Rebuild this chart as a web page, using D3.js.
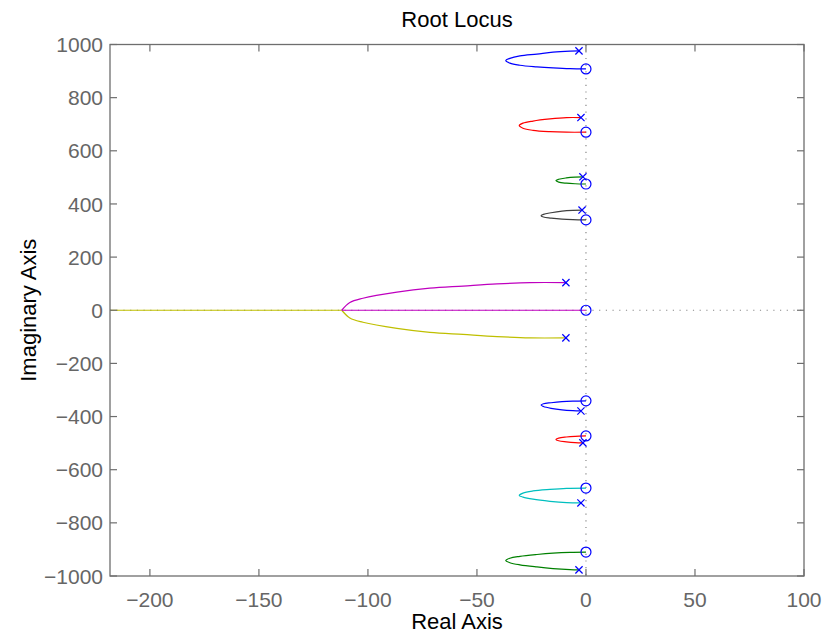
<!DOCTYPE html>
<meta charset="utf-8">
<style>
body { margin: 0; background: #fff; }
text { font-family: "Liberation Sans", Arial, sans-serif; }
.tick-label { fill: #666; font-size: 21px; }
.axis-title { fill: #000; font-size: 22px; }
</style>
<body>
<svg class="chart js-chart"></svg>

<script src="https://d3js.org/d3.v7.min.js"></script>
<script type="text/javascript">
"use strict";

// tick values
var xTicks = [-200, -150, -100, -50, 0, 50, 100];
var yTicks = [-1000, -800, -600, -400, -200, 0, 200, 400, 600, 800, 1000];

// open-loop poles and zeros [re, im]
var poles = [[-3.2, 976], [-2.3, 725], [-1.4, 502], [-1.8, 377], [-9.2, 104],
  [-9.2, -104], [-2.3, -379], [-1.4, -499], [-2.3, -725], [-3.2, -977]];
var zeros = [[0, 908], [0, 670], [0, 475], [0, 340], [0, 0],
  [0, -341], [0, -473], [0, -669], [0, -910]];

// locus branches, pole -> zero
var branchBlueTop = [[-3.2, 976], [-7.3, 975], [-15.1, 971], [-22.5, 964], [-30.3, 957], [-34.9, 948],
  [-36.8, 940], [-34.9, 930], [-30.3, 922], [-22.5, 916], [-15.1, 912], [-7.3, 909], [0, 908]];
var branchRedTop = [[-2.3, 725], [-8.9, 725], [-16.5, 720], [-24.3, 712], [-28.9, 704], [-30.6, 695],
  [-28.9, 685], [-24.3, 677], [-16.5, 672], [-8.9, 670], [0, 670]];
var branchGreenTop = [[-1.4, 502], [-5, 501], [-9, 498], [-12.5, 493], [-13.8, 488], [-12.5, 482],
  [-9, 478], [-5, 476], [0, 475]];
var branchBlackTop = [[-1.8, 377], [-6, 376], [-11, 373], [-16, 367], [-19.5, 361], [-20.6, 356],
  [-19.5, 351], [-16, 347], [-11, 343], [-6, 341], [0, 340]];
var branchBlueBot = [[-2.3, -379], [-6, -378], [-11, -375], [-16, -369], [-19.5, -362], [-20.6, -357],
  [-19.5, -352], [-16, -348], [-11, -344], [-6, -342], [0, -341]];
var branchRedBot = [[-1.4, -499], [-5, -498], [-9, -495], [-12.5, -491], [-13.8, -486], [-12.5, -481],
  [-9, -477], [-5, -474.5], [0, -473]];
var branchCyanBot = [[-2.3, -725], [-8.9, -724], [-16.5, -719], [-24.3, -711], [-28.9, -703], [-30.6, -697],
  [-28.9, -688], [-24.3, -680], [-16.5, -674], [-8.9, -670], [0, -669]];
var branchGreenBot = [[-3.2, -977], [-7.3, -976], [-15.1, -972], [-22.5, -966], [-30.3, -958], [-34.9, -950],
  [-36.8, -942], [-34.9, -933], [-30.3, -926], [-22.5, -919], [-15.1, -914], [-7.3, -911], [0, -910]];
var branchMagentaCurve = [[-9.2, 104], [-25.7, 104], [-40.8, 99], [-56.4, 91], [-71.6, 83], [-86.7, 68],
  [-102.3, 45], [-108.3, 29], [-112, 0]];
var branchMagentaReal = [[-112, 0], [0, 0]];
var branchYellowCurve = [[-9.2, -104], [-25.7, -104], [-40.8, -99], [-56.4, -91], [-71.6, -83], [-86.7, -68],
  [-102.3, -45], [-108.3, -29], [-112, 0]];
var branchYellowReal = [[-112, 0], [-218.3, 0]];

var xDomain = [-218.3, 100];
var yDomain = [-1000, 1000];

var width = 825, height = 635;
var margin = {top: 44.5, right: 21, bottom: 59, left: 110};

var svg = d3.select('.js-chart')
  .attr('width', width)
  .attr('height', height);

var x = d3.scaleLinear().domain(xDomain).range([margin.left, width - margin.right]);
var y = d3.scaleLinear().domain(yDomain).range([height - margin.bottom, margin.top]);

var boxColor = '#6e6e6e';
var tickLen = 7;

// dotted lines through the origin
svg.append('line')
  .attr('x1', x(0)).attr('x2', x(0))
  .attr('y1', y(1000)).attr('y2', y(-1000))
  .attr('stroke', '#888').attr('stroke-width', 1.2)
  .attr('stroke-dasharray', '1.2,5.5');
svg.append('line')
  .attr('x1', x(xDomain[0])).attr('x2', x(100))
  .attr('y1', y(0)).attr('y2', y(0))
  .attr('stroke', '#888').attr('stroke-width', 1.2)
  .attr('stroke-dasharray', '1.2,5.5');

var line = d3.line()
  .x(function (d) { return x(d[0]); })
  .y(function (d) { return y(d[1]); })
  .curve(d3.curveCatmullRom.alpha(0.5));
var straight = d3.line()
  .x(function (d) { return x(d[0]); })
  .y(function (d) { return y(d[1]); });

var branches = [
  {data: branchBlueTop, color: '#0000ff', gen: line},
  {data: branchRedTop, color: '#ff0000', gen: line},
  {data: branchGreenTop, color: '#008000', gen: line},
  {data: branchBlackTop, color: '#404040', gen: line},
  {data: branchBlueBot, color: '#0000ff', gen: line},
  {data: branchRedBot, color: '#ff0000', gen: line},
  {data: branchCyanBot, color: '#00bfbf', gen: line},
  {data: branchGreenBot, color: '#008000', gen: line},
  {data: branchYellowReal, color: '#bfbf00', gen: straight},
  {data: branchYellowCurve, color: '#bfbf00', gen: line},
  {data: branchMagentaReal, color: '#bf00bf', gen: straight},
  {data: branchMagentaCurve, color: '#bf00bf', gen: line}
];

svg.append('g').selectAll('path')
  .data(branches)
  .enter().append('path')
  .attr('d', function (d) { return d.gen(d.data); })
  .attr('fill', 'none')
  .attr('stroke', function (d) { return d.color; })
  .attr('stroke-width', 1.2);

// pole markers
var px = 3.6;
svg.append('g').selectAll('path')
  .data(poles)
  .enter().append('path')
  .attr('d', function (d) {
    var cx = x(d[0]), cy = y(d[1]);
    return 'M' + (cx - px) + ',' + (cy - px) + 'L' + (cx + px) + ',' + (cy + px) +
      'M' + (cx - px) + ',' + (cy + px) + 'L' + (cx + px) + ',' + (cy - px);
  })
  .attr('stroke', '#0000ff')
  .attr('stroke-width', 1.2);

// zero markers
svg.append('g').selectAll('circle')
  .data(zeros)
  .enter().append('circle')
  .attr('cx', function (d) { return x(d[0]); })
  .attr('cy', function (d) { return y(d[1]); })
  .attr('r', 5)
  .attr('fill', 'none')
  .attr('stroke', '#0000ff')
  .attr('stroke-width', 1.2);

// box
svg.append('rect')
  .attr('x', x(xDomain[0])).attr('y', y(1000))
  .attr('width', x(100) - x(xDomain[0]))
  .attr('height', y(-1000) - y(1000))
  .attr('fill', 'none')
  .attr('stroke', boxColor)
  .attr('stroke-width', 1.3);

// ticks, inward on all four sides
var tickG = svg.append('g').attr('stroke', boxColor).attr('stroke-width', 1.2);
xTicks.forEach(function (t) {
  tickG.append('line').attr('x1', x(t)).attr('x2', x(t)).attr('y1', y(-1000)).attr('y2', y(-1000) - tickLen);
  tickG.append('line').attr('x1', x(t)).attr('x2', x(t)).attr('y1', y(1000)).attr('y2', y(1000) + tickLen);
});
yTicks.forEach(function (t) {
  tickG.append('line').attr('x1', x(xDomain[0])).attr('x2', x(xDomain[0]) + tickLen).attr('y1', y(t)).attr('y2', y(t));
  tickG.append('line').attr('x1', x(100)).attr('x2', x(100) - tickLen).attr('y1', y(t)).attr('y2', y(t));
});

var fmt = d3.format('');
svg.append('g').selectAll('text')
  .data(xTicks)
  .enter().append('text')
  .attr('class', 'tick-label')
  .attr('x', function (d) { return x(d); })
  .attr('y', y(-1000) + 31)
  .attr('text-anchor', 'middle')
  .text(function (d) { return fmt(d); });

svg.append('g').selectAll('text')
  .data(yTicks)
  .enter().append('text')
  .attr('class', 'tick-label')
  .attr('x', x(xDomain[0]) - 7)
  .attr('y', function (d) { return y(d); })
  .attr('dy', '0.36em')
  .attr('text-anchor', 'end')
  .text(function (d) { return fmt(d); });

svg.append('text')
  .attr('class', 'axis-title')
  .attr('x', (x(xDomain[0]) + x(100)) / 2)
  .attr('y', 629)
  .attr('text-anchor', 'middle')
  .text('Real Axis');

svg.append('text')
  .attr('class', 'axis-title')
  .attr('transform', 'translate(' + 36 + ',' + y(0) + ') rotate(-90)')
  .attr('text-anchor', 'middle')
  .text('Imaginary Axis');

svg.append('text')
  .attr('class', 'axis-title')
  .attr('x', (x(xDomain[0]) + x(100)) / 2)
  .attr('y', 27)
  .attr('text-anchor', 'middle')
  .text('Root Locus');
</script>
</body>
